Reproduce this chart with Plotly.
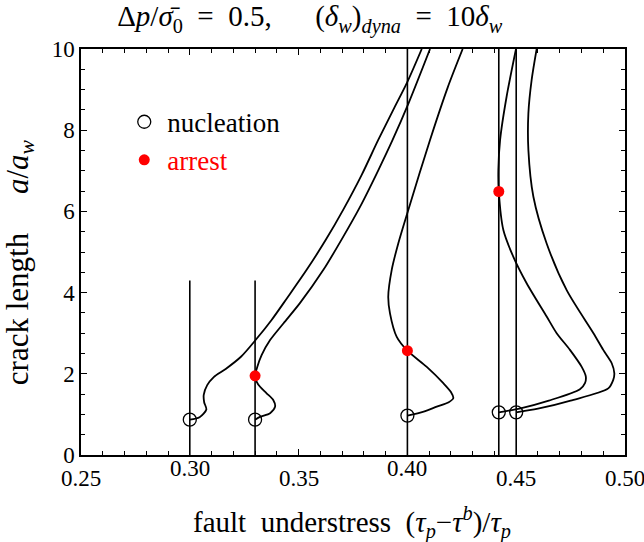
import plotly.graph_objects as go

# ---------------- data ----------------
# vertical reference lines (fault understress values) and their heights
vline_x = [0.30, 0.33, 0.40, 0.442, 0.45]
vline_top = [4.3, 4.3, 10.0, 10.0, 10.0]

# nucleation points
nuc_x = [0.30, 0.33, 0.40, 0.442, 0.45]
nuc_y = [0.87, 0.87, 0.97, 1.05, 1.05]

# arrest points
arr_x = [0.33, 0.40, 0.442]
arr_y = [1.95, 2.57, 6.49]

# crack-length trajectories
c1_x = [0.300, 0.3045, 0.3076, 0.3066, 0.3064, 0.3080, 0.3110, 0.3165, 0.3235, 0.3305,
        0.3375, 0.3445, 0.3537, 0.3625, 0.3706, 0.3790, 0.3866, 0.3935, 0.4000, 0.4066]
c1_y = [0.87, 0.93, 1.12, 1.30, 1.48, 1.72, 1.92, 2.12, 2.42, 2.85,
        3.32, 3.85, 4.56, 5.30, 6.05, 6.90, 7.76, 8.50, 9.19, 10.0]

c2_x = [0.330, 0.3323, 0.3369, 0.3392, 0.3384, 0.3353, 0.3323, 0.3307, 0.3300, 0.3310,
        0.3330, 0.3369, 0.3430, 0.3506, 0.3614, 0.3700, 0.3786, 0.3865, 0.3932, 0.4005, 0.4104]
c2_y = [0.87, 0.94, 1.03, 1.19, 1.35, 1.52, 1.68, 1.81, 1.95, 2.17,
        2.46, 2.83, 3.24, 3.74, 4.56, 5.33, 6.15, 7.00, 7.76, 8.66, 10.0]

c3_x = [0.400, 0.4075, 0.4135, 0.4190, 0.4211, 0.4200, 0.4165, 0.4089, 0.4000, 0.3951,
        0.3920, 0.3912, 0.3928, 0.3958, 0.4002, 0.4104, 0.4185, 0.4254]
c3_y = [0.97, 1.07, 1.19, 1.30, 1.40, 1.55, 1.77, 2.17, 2.57, 2.91,
        3.49, 3.90, 4.56, 5.21, 6.00, 7.76, 9.05, 10.0]

c4_x = [0.442, 0.452, 0.465, 0.4793, 0.4816, 0.4820, 0.4801, 0.4747, 0.4686, 0.4640,
        0.4548, 0.4487, 0.4441, 0.4420, 0.4418, 0.4426, 0.4456, 0.4499]
c4_y = [1.05, 1.15, 1.34, 1.62, 1.77, 1.93, 2.17, 2.59, 3.00, 3.41,
        4.23, 4.88, 5.54, 6.49, 7.02, 7.76, 8.83, 10.0]

c5_x = [0.450, 0.460, 0.475, 0.4923, 0.4946, 0.4951, 0.4939, 0.4900, 0.4855, 0.4732,
        0.4640, 0.4579, 0.4556, 0.4556, 0.4571, 0.4594]
c5_y = [1.05, 1.14, 1.34, 1.64, 1.85, 2.01, 2.26, 2.59, 3.00, 4.06,
        5.21, 6.36, 7.51, 8.42, 9.24, 10.0]

x_tick_vals = [0.25, 0.30, 0.35, 0.40, 0.45, 0.50]
x_tick_text = ["0.25", "0.30", "0.35", "0.40", "0.45", "0.50"]
x_tick_raised = [False, True, False, True, False, False]
y_tick_vals = [0, 2, 4, 6, 8, 10]

FONT = "Liberation Serif, Times New Roman, Times, serif"
NB = "\u00a0"
EN = "\u2002"

fig = go.Figure()

# vertical lines
for vx, vt in zip(vline_x, vline_top):
    fig.add_trace(go.Scatter(x=[vx, vx], y=[0, vt], mode="lines",
                             line=dict(color="black", width=1.6),
                             showlegend=False, hoverinfo="skip"))

# trajectories
for cx, cy in [(c1_x, c1_y), (c2_x, c2_y), (c3_x, c3_y), (c4_x, c4_y), (c5_x, c5_y)]:
    fig.add_trace(go.Scatter(x=cx, y=cy, mode="lines",
                             line=dict(color="black", width=1.8, shape="spline", smoothing=0.8),
                             showlegend=False, hoverinfo="skip"))

fig.add_trace(go.Scatter(x=nuc_x, y=nuc_y, mode="markers", name="nucleation",
                         marker=dict(symbol="circle-open", size=13, color="black",
                                     line=dict(width=1.3, color="black"))))
fig.add_trace(go.Scatter(x=arr_x, y=arr_y, mode="markers",
                         name="<span style='color:red'>arrest</span>",
                         marker=dict(symbol="circle", size=11, color="red")))

# staggered x tick labels
for v, t, raised in zip(x_tick_vals, x_tick_text, x_tick_raised):
    fig.add_annotation(x=v, xref="x", y=0, yref="paper", text=t, showarrow=False,
                       yanchor="middle", xanchor="center",
                       yshift=-13 if raised else -23,
                       font=dict(family=FONT, size=23, color="black"))

# axis titles
fig.add_annotation(x=0.499, xref="paper", y=0, yref="paper", yshift=-67,
                   text="fault" + NB * 2 + "understress" + NB * 2 +
                        "(<i>τ</i><sub><i>p</i></sub>−<i>τ</i><sup><i>b</i></sup>)/<i>τ</i><sub><i>p</i></sub>",
                   showarrow=False, yanchor="middle", xanchor="center",
                   font=dict(family=FONT, size=29, color="black"))
fig.add_annotation(x=0, xref="paper", xshift=-61, y=0.475, yref="paper",
                   text="crack length" + NB * 5 + "<i>a</i>/<i>a</i><sub><i>w</i></sub>",
                   textangle=-90, showarrow=False, yanchor="middle", xanchor="center",
                   font=dict(family=FONT, size=31, color="black"))

title_txt = ("Δ<i>p</i>/<i>σ̄</i><sub>0</sub>" + EN + "=" + EN + "0.5," + EN * 3 +
             "(<i>δ</i><sub><i>w</i></sub>)<sub><i>dyna</i></sub>" + EN + "=" + EN +
             "10<i>δ</i><sub><i>w</i></sub>")

fig.update_layout(
    width=644, height=542,
    margin=dict(l=81, r=19, t=49, b=87),
    paper_bgcolor="white", plot_bgcolor="white",
    title=dict(text=title_txt,
               x=0.481, xref="container", xanchor="center",
               y=0.97, yref="container", yanchor="middle",
               font=dict(family=FONT, size=29, color="black")),
    showlegend=True,
    legend=dict(x=0.074, y=0.88, xanchor="left", yanchor="top",
                bgcolor="rgba(0,0,0,0)", font=dict(family=FONT, size=27, color="black"),
                itemsizing="trace", tracegroupgap=0, itemwidth=36),
    font=dict(family=FONT, color="black"),
)

fig.update_xaxes(range=[0.25, 0.50], showgrid=False, zeroline=False,
                 showline=True, linecolor="black", linewidth=1.5, mirror="allticks",
                 ticks="inside", ticklen=6, tickwidth=1, tickcolor="black",
                 tickvals=x_tick_vals, showticklabels=False,
                 minor=dict(dtick=0.01, ticks="inside", ticklen=4, tickcolor="black", showgrid=False))
fig.update_yaxes(range=[0, 10], showgrid=False, zeroline=False,
                 showline=True, linecolor="black", linewidth=1.5, mirror="allticks",
                 ticks="inside", ticklen=6, tickwidth=1, tickcolor="black",
                 tickvals=y_tick_vals, ticktext=[str(v) for v in y_tick_vals],
                 tickfont=dict(family=FONT, size=23, color="black"),
                 minor=dict(dtick=0.5, ticks="inside", ticklen=4, tickcolor="black", showgrid=False))

fig.write_html("out.html")
